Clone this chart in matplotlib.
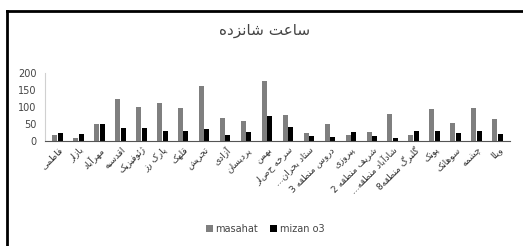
import numpy as np
import matplotlib
matplotlib.use("Agg")
from matplotlib import pyplot as plt
from matplotlib.lines import Line2D

# ایستگاه ها
stations = ["فاطمی", "بازار", "مهرآباد", "اقدسیه", "ژئوفیزیک", "پارک رز", "قلهک",
            "تجریش", "آزادی", "پردیسان", "بهمن", "سرخه حصار", "ستاد بحران...",
            "دروس منطقه 3", "پیروزی", "شریف منطقه 2", "شادآباد منطقه...",
            "گلبرگ منطقه8", "پونک", "سوهانک", "چشمه", "ویلا"]
masahat = [18, 10, 51, 123, 100, 112, 98, 160, 68, 58, 175, 76,
           23, 51, 18, 25, 78, 18, 94, 54, 97, 65]
mizan_o3 = [22, 20, 51, 37, 37, 28, 29, 36, 18, 25, 72, 42,
            14, 11, 26, 14, 10, 28, 28, 22, 29, 20]
title = "ساعت شانزده"

# شکل دادن حروف فارسی (matplotlib خودش این کار را نمی کند)
FORMS = {
    "ا": (0xFE8D, 0xFE8E, None, None), "آ": (0xFE81, 0xFE82, None, None),
    "ب": (0xFE8F, 0xFE90, 0xFE91, 0xFE92), "پ": (0xFB56, 0xFB57, 0xFB58, 0xFB59),
    "ت": (0xFE95, 0xFE96, 0xFE97, 0xFE98), "ج": (0xFE9D, 0xFE9E, 0xFE9F, 0xFEA0),
    "چ": (0xFB7A, 0xFB7B, 0xFB7C, 0xFB7D), "ح": (0xFEA1, 0xFEA2, 0xFEA3, 0xFEA4),
    "خ": (0xFEA5, 0xFEA6, 0xFEA7, 0xFEA8), "د": (0xFEA9, 0xFEAA, None, None),
    "ر": (0xFEAD, 0xFEAE, None, None), "ز": (0xFEAF, 0xFEB0, None, None),
    "ژ": (0xFB8A, 0xFB8B, None, None), "س": (0xFEB1, 0xFEB2, 0xFEB3, 0xFEB4),
    "ش": (0xFEB5, 0xFEB6, 0xFEB7, 0xFEB8), "ط": (0xFEC1, 0xFEC2, 0xFEC3, 0xFEC4),
    "ع": (0xFEC9, 0xFECA, 0xFECB, 0xFECC), "ف": (0xFED1, 0xFED2, 0xFED3, 0xFED4),
    "ق": (0xFED5, 0xFED6, 0xFED7, 0xFED8), "ک": (0xFB8E, 0xFB8F, 0xFB90, 0xFB91),
    "گ": (0xFB92, 0xFB93, 0xFB94, 0xFB95), "ل": (0xFEDD, 0xFEDE, 0xFEDF, 0xFEE0),
    "م": (0xFEE1, 0xFEE2, 0xFEE3, 0xFEE4), "ن": (0xFEE5, 0xFEE6, 0xFEE7, 0xFEE8),
    "و": (0xFEED, 0xFEEE, None, None), "ه": (0xFEE9, 0xFEEA, 0xFEEB, 0xFEEC),
    "ی": (0xFBFC, 0xFBFD, 0xFBFE, 0xFBFF), "ئ": (0xFE89, 0xFE8A, 0xFE8B, 0xFE8C),
}


def fa(s):
    out = []
    for i, c in enumerate(s):
        if c not in FORMS:
            out.append(c)
            continue
        prev = s[i - 1] if i > 0 else ""
        nxt = s[i + 1] if i + 1 < len(s) else ""
        join_prev = prev in FORMS and FORMS[prev][2] is not None
        join_next = FORMS[c][2] is not None and nxt in FORMS
        iso, fin, ini, med = FORMS[c]
        if join_prev and join_next:
            out.append(chr(med))
        elif join_prev:
            out.append(chr(fin))
        elif join_next:
            out.append(chr(ini))
        else:
            out.append(chr(iso))
    return "".join(out)[::-1]


plt.rcParams["font.family"] = ["DejaVu Sans"]

fig = plt.figure(figsize=(5.23, 2.46), dpi=100)
ax = fig.add_axes([45 / 523, 1 - 141 / 246, 465 / 523, 68.3 / 246])

x = np.arange(len(stations))
w = 0.24
ax.bar(x - w / 2 - 0.01, masahat, w, color="#7f7f7f", label="masahat")
ax.bar(x + w / 2 + 0.01, mizan_o3, w, color="#000000", label="mizan o3")

ax.set_xlim(-0.6, len(stations) - 0.4)
ax.set_ylim(0, 200)
ax.set_yticks([0, 50, 100, 150, 200])
ax.tick_params(axis="y", length=0, labelsize=7, colors="#444444", pad=6)
ax.tick_params(axis="x", length=0, pad=3)
ax.set_xticks(x)
ax.set_xticklabels([fa(s) for s in stations], rotation=45, ha="right",
                   va="top", rotation_mode="anchor", fontsize=6.5, color="#333333")

for side in ["top", "right"]:
    ax.spines[side].set_visible(False)
ax.spines["left"].set_color("#d0d0d0")
ax.spines["bottom"].set_color("#555555")

fig.text(265 / 523, 1 - 30 / 246, fa(title), ha="center", va="center",
         fontsize=11, color="#444444")

fig.legend(loc="center", bbox_to_anchor=(265 / 523, 1 - 229 / 246), ncol=2,
           frameon=False, fontsize=7, handlelength=0.7, handleheight=0.7,
           columnspacing=1.2, handletextpad=0.3, labelcolor="#444444")

# قاب بیرونی
fig.add_artist(Line2D([7 / 523, 1], [1 - 11 / 246, 1 - 11 / 246], color="black", lw=2))
fig.add_artist(Line2D([7 / 523, 7 / 523], [0, 1 - 11 / 246], color="black", lw=2))

fig.savefig("out.png", dpi=100, facecolor="white")
